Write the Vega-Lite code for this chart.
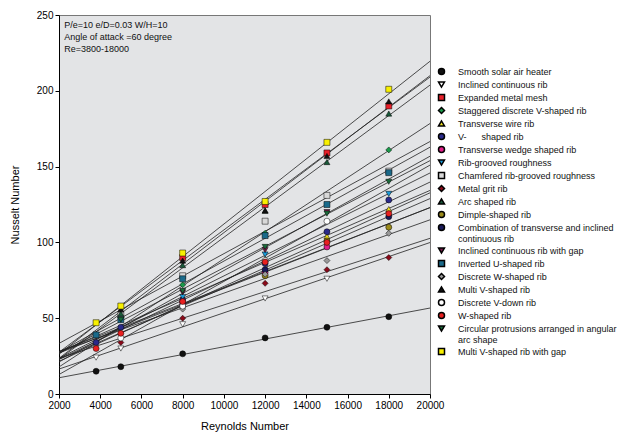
{
  "$schema": "https://vega.github.io/schema/vega-lite/v6.json",
  "width": 371,
  "height": 379,
  "autosize": {"type": "none"},
  "padding": {"left": 59, "top": 15, "right": 194, "bottom": 43},
  "background": "white",
  "config": {
    "font": "Liberation Sans",
    "view": {"fill": "#e3e4e6", "stroke": "#777777", "strokeWidth": 1},
    "axis": {"domainColor": "#000000", "tickColor": "#000000", "labelColor": "#000000", "titleColor": "#000000", "labelFont": "Liberation Sans", "titleFont": "Liberation Sans", "labelFontSize": 10, "titleFontSize": 11, "titleFontWeight": "normal", "grid": false, "tickSize": 4},
    "legend": {"labelFont": "Liberation Sans", "labelFontSize": 9, "labelColor": "#111111"}
  },
  "data": {"values": [
    {"series": "Smooth solar air heater", "Re": 3800, "Nu": 15},
    {"series": "Smooth solar air heater", "Re": 5000, "Nu": 18},
    {"series": "Smooth solar air heater", "Re": 8000, "Nu": 26.5},
    {"series": "Smooth solar air heater", "Re": 12000, "Nu": 37},
    {"series": "Smooth solar air heater", "Re": 15000, "Nu": 44},
    {"series": "Smooth solar air heater", "Re": 18000, "Nu": 51},
    {"series": "Inclined continuous rib", "Re": 3800, "Nu": 24},
    {"series": "Inclined continuous rib", "Re": 5000, "Nu": 30},
    {"series": "Inclined continuous rib", "Re": 8000, "Nu": 46},
    {"series": "Inclined continuous rib", "Re": 12000, "Nu": 63},
    {"series": "Inclined continuous rib", "Re": 15000, "Nu": 76},
    {"series": "Expanded metal mesh", "Re": 8000, "Nu": 90},
    {"series": "Expanded metal mesh", "Re": 12000, "Nu": 125},
    {"series": "Expanded metal mesh", "Re": 15000, "Nu": 159},
    {"series": "Expanded metal mesh", "Re": 18000, "Nu": 190},
    {"series": "Staggered discrete V-shaped rib", "Re": 8000, "Nu": 72},
    {"series": "Staggered discrete V-shaped rib", "Re": 12000, "Nu": 106},
    {"series": "Staggered discrete V-shaped rib", "Re": 18000, "Nu": 161},
    {"series": "Transverse wire rib", "Re": 8000, "Nu": 62},
    {"series": "Transverse wire rib", "Re": 12000, "Nu": 89},
    {"series": "Transverse wire rib", "Re": 15000, "Nu": 104},
    {"series": "Transverse wire rib", "Re": 18000, "Nu": 122},
    {"series": "V- shaped rib", "Re": 3800, "Nu": 34},
    {"series": "V- shaped rib", "Re": 5000, "Nu": 44},
    {"series": "V- shaped rib", "Re": 8000, "Nu": 62},
    {"series": "V- shaped rib", "Re": 12000, "Nu": 86},
    {"series": "V- shaped rib", "Re": 15000, "Nu": 107},
    {"series": "V- shaped rib", "Re": 18000, "Nu": 128},
    {"series": "Transverse wedge shaped rib", "Re": 8000, "Nu": 60},
    {"series": "Transverse wedge shaped rib", "Re": 12000, "Nu": 80},
    {"series": "Transverse wedge shaped rib", "Re": 15000, "Nu": 97},
    {"series": "Rib-grooved roughness", "Re": 8000, "Nu": 64},
    {"series": "Rib-grooved roughness", "Re": 12000, "Nu": 92},
    {"series": "Rib-grooved roughness", "Re": 18000, "Nu": 132},
    {"series": "Chamfered rib-grooved roughness", "Re": 5000, "Nu": 52},
    {"series": "Chamfered rib-grooved roughness", "Re": 8000, "Nu": 78},
    {"series": "Chamfered rib-grooved roughness", "Re": 12000, "Nu": 114},
    {"series": "Chamfered rib-grooved roughness", "Re": 15000, "Nu": 131},
    {"series": "Chamfered rib-grooved roughness", "Re": 18000, "Nu": 147},
    {"series": "Metal grit rib", "Re": 5000, "Nu": 34},
    {"series": "Metal grit rib", "Re": 8000, "Nu": 50},
    {"series": "Metal grit rib", "Re": 12000, "Nu": 73},
    {"series": "Metal grit rib", "Re": 15000, "Nu": 82},
    {"series": "Metal grit rib", "Re": 18000, "Nu": 90},
    {"series": "Arc shaped rib", "Re": 5000, "Nu": 53},
    {"series": "Arc shaped rib", "Re": 8000, "Nu": 85},
    {"series": "Arc shaped rib", "Re": 12000, "Nu": 121},
    {"series": "Arc shaped rib", "Re": 15000, "Nu": 153},
    {"series": "Arc shaped rib", "Re": 18000, "Nu": 185},
    {"series": "Dimple-shaped rib", "Re": 12000, "Nu": 78},
    {"series": "Dimple-shaped rib", "Re": 15000, "Nu": 101},
    {"series": "Dimple-shaped rib", "Re": 18000, "Nu": 110},
    {"series": "Combination of transverse and inclined continuous rib", "Re": 8000, "Nu": 58},
    {"series": "Combination of transverse and inclined continuous rib", "Re": 12000, "Nu": 82},
    {"series": "Combination of transverse and inclined continuous rib", "Re": 18000, "Nu": 117},
    {"series": "Inclined continuous rib with gap", "Re": 8000, "Nu": 67},
    {"series": "Inclined continuous rib with gap", "Re": 12000, "Nu": 95},
    {"series": "Inclined continuous rib with gap", "Re": 15000, "Nu": 120},
    {"series": "Inverted U-shaped rib", "Re": 3800, "Nu": 39},
    {"series": "Inverted U-shaped rib", "Re": 5000, "Nu": 49},
    {"series": "Inverted U-shaped rib", "Re": 8000, "Nu": 76},
    {"series": "Inverted U-shaped rib", "Re": 12000, "Nu": 104.5},
    {"series": "Inverted U-shaped rib", "Re": 15000, "Nu": 125},
    {"series": "Inverted U-shaped rib", "Re": 18000, "Nu": 146},
    {"series": "Discrete W-shaped rib", "Re": 8000, "Nu": 56},
    {"series": "Discrete W-shaped rib", "Re": 12000, "Nu": 79},
    {"series": "Discrete W-shaped rib", "Re": 15000, "Nu": 88},
    {"series": "Discrete W-shaped rib", "Re": 18000, "Nu": 106},
    {"series": "Multi V-shaped rib", "Re": 5000, "Nu": 56},
    {"series": "Multi V-shaped rib", "Re": 8000, "Nu": 88},
    {"series": "Multi V-shaped rib", "Re": 12000, "Nu": 121},
    {"series": "Multi V-shaped rib", "Re": 15000, "Nu": 157},
    {"series": "Multi V-shaped rib", "Re": 18000, "Nu": 193},
    {"series": "Discrete V-down rib", "Re": 5000, "Nu": 37},
    {"series": "Discrete V-down rib", "Re": 8000, "Nu": 58},
    {"series": "Discrete V-down rib", "Re": 12000, "Nu": 88},
    {"series": "Discrete V-down rib", "Re": 15000, "Nu": 114},
    {"series": "W-shaped rib", "Re": 3800, "Nu": 30},
    {"series": "W-shaped rib", "Re": 5000, "Nu": 40},
    {"series": "W-shaped rib", "Re": 8000, "Nu": 61},
    {"series": "W-shaped rib", "Re": 12000, "Nu": 87},
    {"series": "W-shaped rib", "Re": 15000, "Nu": 100},
    {"series": "W-shaped rib", "Re": 18000, "Nu": 119},
    {"series": "Circular protrusions arranged in angular arc shape", "Re": 5000, "Nu": 49},
    {"series": "Circular protrusions arranged in angular arc shape", "Re": 8000, "Nu": 68},
    {"series": "Circular protrusions arranged in angular arc shape", "Re": 12000, "Nu": 97},
    {"series": "Circular protrusions arranged in angular arc shape", "Re": 15000, "Nu": 119},
    {"series": "Circular protrusions arranged in angular arc shape", "Re": 18000, "Nu": 140},
    {"series": "Multi V-shaped rib with gap", "Re": 3800, "Nu": 47},
    {"series": "Multi V-shaped rib with gap", "Re": 5000, "Nu": 58},
    {"series": "Multi V-shaped rib with gap", "Re": 8000, "Nu": 93},
    {"series": "Multi V-shaped rib with gap", "Re": 12000, "Nu": 127},
    {"series": "Multi V-shaped rib with gap", "Re": 15000, "Nu": 166},
    {"series": "Multi V-shaped rib with gap", "Re": 18000, "Nu": 201}
  ]},
  "layer": [
    {
      "transform": [{"regression": "Nu", "on": "Re", "groupby": ["series"], "extent": [2000, 20000]}],
      "mark": {"type": "line", "color": "#222222", "strokeWidth": 0.8},
      "encoding": {
        "x": {"field": "Re", "type": "quantitative", "scale": {"domain": [2000, 20000], "nice": false}, "axis": {"title": "Reynolds Number", "values": [2000, 4000, 6000, 8000, 10000, 12000, 14000, 16000, 18000, 20000], "format": "d", "labelFlush": false, "titlePadding": 10}},
        "y": {"field": "Nu", "type": "quantitative", "scale": {"domain": [0, 250], "nice": false}, "axis": {"title": "Nusselt Number", "values": [0, 50, 100, 150, 200, 250], "titlePadding": 16}},
        "detail": {"field": "series"}
      }
    },
    {
      "mark": {"type": "point", "filled": true, "stroke": "#000000", "strokeWidth": 0.5, "size": 36, "opacity": 1},
      "encoding": {
        "x": {"field": "Re", "type": "quantitative"},
        "y": {"field": "Nu", "type": "quantitative"},
        "shape": {"field": "series", "type": "nominal",
          "scale": {
            "domain": ["Smooth solar air heater", "Inclined continuous rib", "Expanded metal mesh", "Staggered discrete V-shaped rib", "Transverse wire rib", "V- shaped rib", "Transverse wedge shaped rib", "Rib-grooved roughness", "Chamfered rib-grooved roughness", "Metal grit rib", "Arc shaped rib", "Dimple-shaped rib", "Combination of transverse and inclined continuous rib", "Inclined continuous rib with gap", "Inverted U-shaped rib", "Discrete W-shaped rib", "Multi V-shaped rib", "Discrete V-down rib", "W-shaped rib", "Circular protrusions arranged in angular arc shape", "Multi V-shaped rib with gap"],
            "range": ["circle", "triangle-down", "square", "diamond", "triangle-up", "circle", "circle", "triangle-down", "square", "diamond", "triangle-up", "circle", "circle", "triangle-down", "square", "diamond", "triangle-up", "circle", "circle", "triangle-down", "square"]
          },
          "legend": {"title": null, "orient": "none", "legendX": 378, "legendY": 52, "padding": 0, "rowPadding": 0, "symbolSize": 36, "labelOffset": 12, "labelLimit": 300, "labelLineHeight": 12.5,
            "labelExpr": "datum.label == 'Combination of transverse and inclined continuous rib' ? ['Combination of transverse and inclined', 'continuous rib'] : datum.label == 'Circular protrusions arranged in angular arc shape' ? ['Circular protrusions arranged in angular', 'arc shape'] : datum.label == 'V- shaped rib' ? 'V-\u00a0\u00a0\u00a0\u00a0\u00a0 shaped rib' : datum.label",
            "encode": {"symbols": {"update": {"stroke": {"value": "#000000"}, "strokeWidth": {"value": 0.5}}}}}
        },
        "fill": {"field": "series", "type": "nominal",
          "scale": {
            "domain": ["Smooth solar air heater", "Inclined continuous rib", "Expanded metal mesh", "Staggered discrete V-shaped rib", "Transverse wire rib", "V- shaped rib", "Transverse wedge shaped rib", "Rib-grooved roughness", "Chamfered rib-grooved roughness", "Metal grit rib", "Arc shaped rib", "Dimple-shaped rib", "Combination of transverse and inclined continuous rib", "Inclined continuous rib with gap", "Inverted U-shaped rib", "Discrete W-shaped rib", "Multi V-shaped rib", "Discrete V-down rib", "W-shaped rib", "Circular protrusions arranged in angular arc shape", "Multi V-shaped rib with gap"],
            "range": ["#111111", "#ffffff", "#e8202a", "#1a9a4a", "#f0e020", "#2a2a8a", "#e0208a", "#1a9ad8", "#d8d8d8", "#8a0a1a", "#1a5a3a", "#9a8a1a", "#1a1a5a", "#7a1a4a", "#1a6a8a", "#9a9a9a", "#111111", "#ffffff", "#e82020", "#1a6a3a", "#f8f000"]
          },
          "legend": {"title": null, "orient": "none", "legendX": 378, "legendY": 52, "padding": 0, "rowPadding": 0, "symbolSize": 36, "labelOffset": 12, "labelLimit": 300, "labelLineHeight": 12.5,
            "labelExpr": "datum.label == 'Combination of transverse and inclined continuous rib' ? ['Combination of transverse and inclined', 'continuous rib'] : datum.label == 'Circular protrusions arranged in angular arc shape' ? ['Circular protrusions arranged in angular', 'arc shape'] : datum.label == 'V- shaped rib' ? 'V-\u00a0\u00a0\u00a0\u00a0\u00a0 shaped rib' : datum.label",
            "encode": {"symbols": {"update": {"stroke": {"value": "#000000"}, "strokeWidth": {"value": 0.5}}}}}
        }
      }
    },
    {
      "data": {"values": [{}]},
      "mark": {"type": "text", "align": "left", "baseline": "top", "fontSize": 9, "lineHeight": 12, "color": "#111111", "font": "Liberation Sans"},
      "encoding": {
        "x": {"datum": 2250},
        "y": {"datum": 246},
        "text": {"value": ["P/e=10 e/D=0.03 W/H=10", "Angle of attack =60 degree", "Re=3800-18000"]}
      }
    }
  ]
}
